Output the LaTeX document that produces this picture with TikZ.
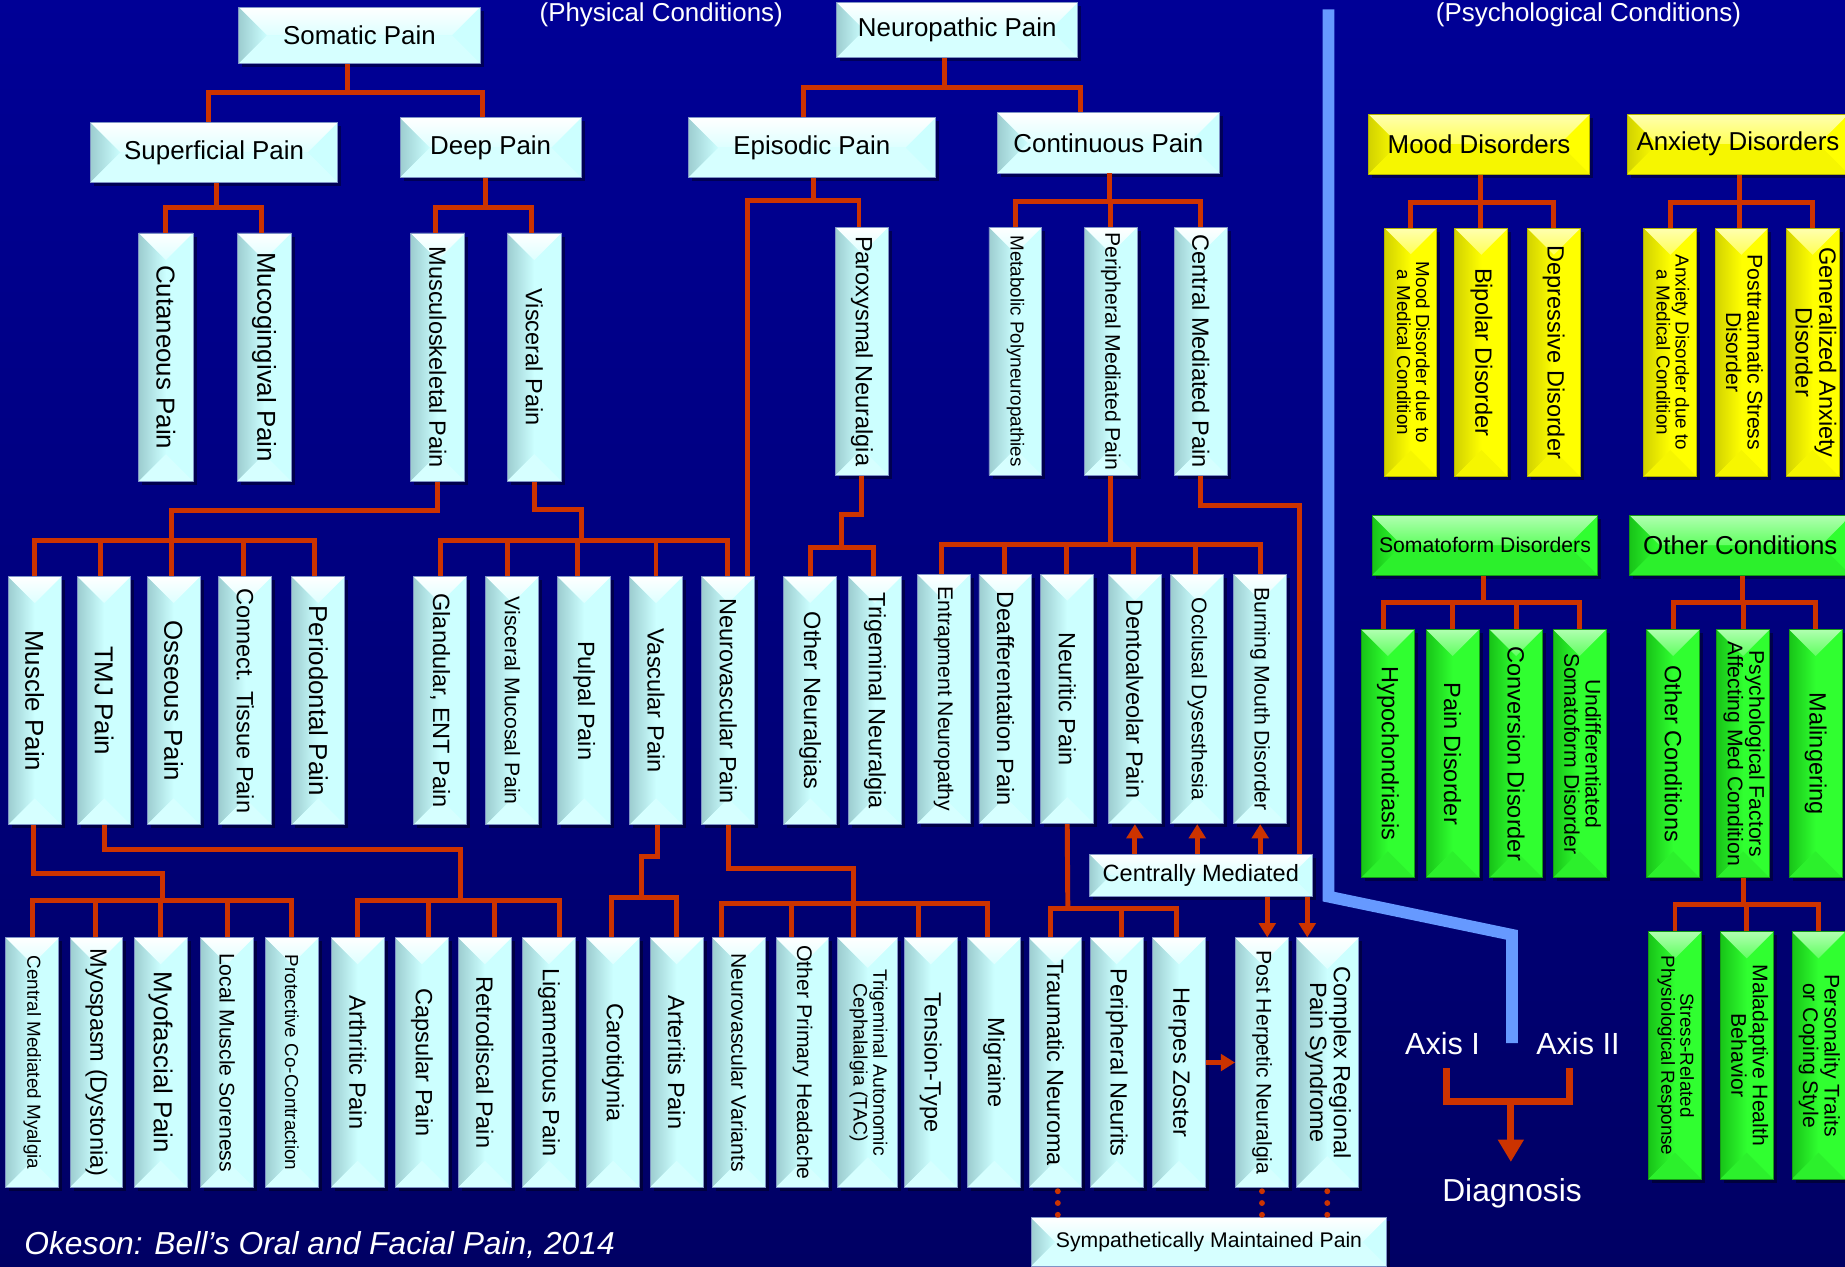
\documentclass[tikz,border=0pt]{standalone}
\usepackage{fontspec}
\setmainfont{Liberation Sans}
\usepackage{graphicx}
\usetikzlibrary{arrows.meta}

\definecolor{cyW}{HTML}{FFFFFF}
\definecolor{cyL}{HTML}{9DCDD0}
\definecolor{cyR}{HTML}{CCFFFF}
\definecolor{cyT}{HTML}{DDFFFF}
\definecolor{cyB}{HTML}{D6FFFF}
\definecolor{cyD}{HTML}{7F94C6}
\definecolor{ylW}{HTML}{FFFFB0}
\definecolor{ylL}{HTML}{D2D200}
\definecolor{ylR}{HTML}{FFFF00}
\definecolor{ylT}{HTML}{FFFF55}
\definecolor{ylB}{HTML}{F6F600}
\definecolor{ylD}{HTML}{B4B400}
\definecolor{grW}{HTML}{B0FFB0}
\definecolor{grL}{HTML}{18C418}
\definecolor{grR}{HTML}{30FF30}
\definecolor{grT}{HTML}{60FF60}
\definecolor{grB}{HTML}{2CF02C}
\definecolor{grD}{HTML}{169A16}
\definecolor{redline}{HTML}{CC3300}
\definecolor{divblue}{HTML}{6699FF}
\definecolor{bgT}{HTML}{000096}
\definecolor{bgM}{HTML}{0000CC}
\definecolor{bgB}{HTML}{000064}

\newcommand\fsz[1]{\fontsize{#1}{#1}\selectfont}
\newcommand\vtxt[2]{\rotatebox{-90}{\fsz{#1}#2}}
\newcommand\vtwo[3]{\rotatebox{-90}{\fsz{#1}\def\arraystretch{0.95}\begin{tabular}{@{}c@{}}#2\\#3\end{tabular}}}
\newcommand\bevbox[7][cy]{%
  \pgfmathsetmacro\bxl{#3-#5/2}%
  \pgfmathsetmacro\bxr{#3+#5/2}%
  \pgfmathsetmacro\byt{#4-#6/2}%
  \pgfmathsetmacro\byb{#4+#6/2}%
  \pgfmathsetmacro\bd{min(#5,#6)/2}%
  \pgfmathsetmacro\bxli{\bxl+\bd}%
  \pgfmathsetmacro\bxri{\bxr-\bd}%
  \pgfmathsetmacro\byti{\byt+\bd}%
  \pgfmathsetmacro\bybi{\byb-\bd}%
  \fill[black,opacity=.4] (\bxl+3,\byt+3) rectangle (\bxr+3,\byb+3);
  \fill[#1R] (\bxl,\byt) rectangle (\bxr,\byb);
  \shade[left color=#1L, right color=#1R] (\bxl,\byt) -- (\bxli,\byti) -- (\bxli,\bybi) -- (\bxl,\byb) -- cycle;
  \fill[#1R] (\bxr,\byt) -- (\bxri,\byti) -- (\bxri,\bybi) -- (\bxr,\byb) -- cycle;
  \shade[top color=#1W, bottom color=#1T] (\bxl,\byt) -- (\bxr,\byt) -- (\bxri,\byti) -- (\bxli,\byti) -- cycle;
  \fill[#1B] (\bxl,\byb) -- (\bxr,\byb) -- (\bxri,\bybi) -- (\bxli,\bybi) -- cycle;
  \node[draw=#1D, line width=.8pt, inner sep=0pt, minimum width=#5pt, minimum height=#6pt] (#2) at (#3,#4) {#7};%
}

\begin{document}
\begin{tikzpicture}[x=1pt,y=-1pt,
  conn/.style={draw=redline, line width=4.2pt, line join=miter},
  arr/.style={draw=redline, line width=4.2pt, -{Triangle[width=14pt,length=12pt]}},
  dotline/.style={draw=redline, line width=5pt, line cap=round, dash pattern=on 0pt off 10pt, shorten <=3pt, shorten >=2pt},
  wtxt/.style={text=white, inner sep=0pt},
  divider/.style={draw=divblue, line width=10pt, line join=miter},
  bigconn/.style={draw=redline, line width=6pt, line join=miter},
  bigarr/.style={draw=redline, line width=6pt, -{Triangle[width=21pt,length=19pt]}}]

\useasboundingbox (0,0) rectangle (1568,1076);
\shade[top color=bgT, middle color=bgM, bottom color=bgB] (0,0) rectangle (1568,1076);

% divider
\draw[divider] (1129,8) -- (1129,762) -- (1285,794.5) -- (1285,886.5);

% titles
\node[wtxt, font=\fsz{22}, anchor=base] (phys) at (562,18) {(Physical Conditions)};
\node[wtxt, font=\fsz{22}, anchor=base] (psych) at (1350,18) {(Psychological Conditions)};

% ---------- level 1/2 headers ----------
\bevbox{somatic}{305.5}{30}{205}{48}{\fsz{22}Somatic Pain}
\bevbox{neuro}{813.5}{25.5}{205}{47}{\fsz{22}Neuropathic Pain}
\bevbox{superf}{182}{129.5}{210}{51}{\fsz{22}Superficial Pain}
\bevbox{deep}{417}{125.5}{154}{51}{\fsz{22}Deep Pain}
\bevbox{episodic}{690}{125.5}{210}{51}{\fsz{22}Episodic Pain}
\bevbox{contin}{942}{121.5}{188}{51}{\fsz{22}Continuous Pain}

% ---------- row 2 ----------
\bevbox{cutan}{141}{303.5}{46}{211}{\vtxt{22}{Cutaneous Pain}}
\bevbox{mucog}{224.5}{303.5}{46}{211}{\vtxt{22}{Mucogingival Pain}}
\bevbox{muscsk}{372}{303.5}{46}{211}{\vtxt{20}{Musculoskeletal Pain}}
\bevbox{visc}{454}{303.5}{46}{211}{\vtxt{20}{Visceral Pain}}
\bevbox{parox}{732.5}{298.5}{45}{211}{\vtxt{20}{Paroxysmal Neuralgia}}
\bevbox{metab}{863}{298.5}{45}{211}{\vtxt{16}{Metabolic Polyneuropathies}}
\bevbox{perimed}{944}{298.5}{45}{211}{\vtxt{18}{Peripheral Mediated Pain}}
\bevbox{centmed}{1020.5}{298.5}{45}{211}{\vtxt{20}{Central Mediated Pain}}

% psych row 2
\bevbox[yl]{mood}{1257}{122.5}{188}{51}{\fsz{22}Mood Disorders}
\bevbox[yl]{anxiety}{1477}{122.5}{188}{51}{\fsz{22}Anxiety Disorders}
\bevbox[yl]{mooddue}{1199}{299.5}{44}{211}{\vtwo{16}{Mood Disorder due to}{a Medical Condition}}
\bevbox[yl]{bipolar}{1259}{299.5}{45}{211}{\vtxt{20}{Bipolar Disorder}}
\bevbox[yl]{depress}{1320.5}{299.5}{45}{211}{\vtxt{20}{Depressive Disorder}}
\bevbox[yl]{anxdue}{1419.5}{299.5}{45}{211}{\vtwo{16}{Anxiety Disorder due to}{a Medical Condition}}
\bevbox[yl]{ptsd}{1480}{299.5}{45}{211}{\vtwo{18}{Posttraumatic Stress}{Disorder}}
\bevbox[yl]{gad}{1540.5}{299.5}{45}{211}{\vtwo{20}{Generalized Anxiety}{Disorder}}

% ---------- row 3 ----------
\bevbox{musclep}{29.5}{595.5}{45}{211}{\vtxt{22}{Muscle Pain}}
\bevbox{tmj}{88.5}{595.5}{45}{211}{\vtxt{22}{TMJ Pain}}
\bevbox{osseous}{147.5}{595.5}{45}{211}{\vtxt{22}{Osseous Pain}}
\bevbox{connect}{208.5}{595.5}{45}{211}{\vtxt{20}{Connect. Tissue Pain}}
\bevbox{periodon}{270.5}{595.5}{45}{211}{\vtxt{22}{Periodontal Pain}}
\bevbox{glandular}{374}{595.5}{45}{211}{\vtxt{20}{Glandular, ENT Pain}}
\bevbox{viscmuc}{435.5}{595.5}{45}{211}{\vtxt{18}{Visceral Mucosal Pain}}
\bevbox{pulpal}{496.5}{595.5}{45}{211}{\vtxt{20}{Pulpal Pain}}
\bevbox{vascular}{557.5}{595.5}{45}{211}{\vtxt{20}{Vascular Pain}}
\bevbox{neurovasc}{619}{595.5}{45}{211}{\vtxt{20}{Neurovascular Pain}}
\bevbox{otherneur}{688.5}{595.5}{45}{211}{\vtxt{20}{Other Neuralgias}}
\bevbox{trignr}{743.5}{595.5}{45}{211}{\vtxt{20}{Trigeminal Neuralgia}}
\bevbox{entrap}{802}{594}{45}{212}{\vtxt{18}{Entrapment Neuropathy}}
\bevbox{deaff}{854.5}{594}{45}{212}{\vtxt{20}{Deafferentation Pain}}
\bevbox{neuritic}{907}{594}{45}{212}{\vtxt{20}{Neuritic Pain}}
\bevbox{dentoalv}{964.5}{594}{45}{212}{\vtxt{20}{Dentoalveolar Pain}}
\bevbox{occlus}{1017.5}{594}{45}{212}{\vtxt{18}{Occlusal Dysesthesia}}
\bevbox{burning}{1071}{594}{45}{212}{\vtxt{18}{Burning Mouth Disorder}}

% psych row 3
\bevbox[gr]{somato}{1262}{463.5}{192}{51}{\fsz{18}Somatoform Disorders}
\bevbox[gr]{otherc}{1479}{463.5}{188}{51}{\fsz{22}Other Conditions}
\bevbox[gr]{hypo}{1179.5}{640.5}{45}{211}{\vtxt{20}{Hypochondriasis}}
\bevbox[gr]{paindis}{1234.5}{640.5}{45}{211}{\vtxt{20}{Pain Disorder}}
\bevbox[gr]{conv}{1288.5}{640.5}{45}{211}{\vtxt{20}{Conversion Disorder}}
\bevbox[gr]{undiff}{1342.5}{640.5}{45}{211}{\vtwo{18}{Undifferentiated}{Somatoform Disorder}}
\bevbox[gr]{otherc2}{1422}{640.5}{45}{211}{\vtxt{20}{Other Conditions}}
\bevbox[gr]{psyfac}{1481.5}{640.5}{45}{211}{\vtwo{18}{Psychological Factors}{Affecting Med Condition}}
\bevbox[gr]{maling}{1543}{640.5}{45}{211}{\vtxt{20}{Malingering}}

% ---------- bottom row ----------
\bevbox{cmm}{27.5}{903}{45}{212}{\vtxt{16}{Central Mediated Myalgia}}
\bevbox{myosp}{82}{903}{45}{212}{\vtxt{20}{Myospasm (Dystonia)}}
\bevbox{myofasc}{136.5}{903}{45}{212}{\vtxt{22}{Myofascial Pain}}
\bevbox{lms}{193}{903}{45}{212}{\vtxt{18}{Local Muscle Soreness}}
\bevbox{protect}{248}{903}{45}{212}{\vtxt{16}{Protective Co-Contraction}}
\bevbox{arthr}{304}{903}{45}{212}{\vtxt{20}{Arthritic Pain}}
\bevbox{caps}{358.5}{903}{45}{212}{\vtxt{20}{Capsular Pain}}
\bevbox{retro}{412}{903}{45}{212}{\vtxt{20}{Retrodiscal Pain}}
\bevbox{ligam}{466.5}{903}{45}{212}{\vtxt{20}{Ligamentous Pain}}
\bevbox{carot}{521}{903}{45}{212}{\vtxt{20}{Carotidynia}}
\bevbox{arter}{575}{903}{45}{212}{\vtxt{20}{Arteritis Pain}}
\bevbox{nvv}{628}{903}{45}{212}{\vtxt{18}{Neurovascular Variants}}
\bevbox{oph}{682}{903}{45}{212}{\vtxt{18}{Other Primary Headache}}
\bevbox{tac}{737.5}{903}{51}{212}{\vtwo{16.5}{Trigeminal Autonomic}{Cephalalgia (TAC)}}
\bevbox{tension}{791}{903}{45}{212}{\vtxt{20}{Tension-Type}}
\bevbox{migraine}{845}{903}{45}{212}{\vtxt{20}{Migraine}}
\bevbox{traum}{897}{903}{45}{212}{\vtxt{20}{Traumatic Neuroma}}
\bevbox{perneur}{949}{903}{45}{212}{\vtxt{20}{Peripheral Neurits}}
\bevbox{herpes}{1002}{903}{45}{212}{\vtxt{20}{Herpes Zoster}}
\bevbox{phn}{1072.5}{903}{45}{212}{\vtxt{18}{Post Herpetic Neuralgia}}
\bevbox{crps}{1128}{903}{53}{212}{\vtwo{20}{Complex Regional}{Pain Syndrome}}

\bevbox[gr]{stress}{1423.5}{897}{45}{210}{\vtwo{16}{Stress-Related}{Physiological Response}}
\bevbox[gr]{malad}{1484.5}{897}{45}{210}{\vtwo{18}{Maladaptive Health}{Behavior}}
\bevbox[gr]{person}{1545.5}{897}{45}{210}{\vtwo{18}{Personality Traits}{or Coping Style}}

\bevbox{cmed}{1020.5}{744}{189}{36}{\fsz{20}Centrally Mediated}
\bevbox{smp}{1027.5}{1055.5}{302}{41}{\fsz{18}Sympathetically Maintained Pain}

% ---------- connectors ----------
% Somatic
\coordinate (jS) at (295,79);
\draw[conn] ([xshift=-10.5pt]somatic.south) -- (jS);
\draw[conn] ([xshift=-5pt]superf.north) |- (jS);
\draw[conn] ([xshift=-7pt]deep.north) |- (jS);
% Superficial
\coordinate (jSf) at (184,176);
\draw[conn] ([xshift=2pt]superf.south) -- (jSf);
\draw[conn] (cutan.north) |- (jSf);
\draw[conn] ([xshift=-2.5pt]mucog.north) |- (jSf);
% Deep
\coordinate (jD) at (413,176);
\draw[conn] ([xshift=-4pt]deep.south) -- (jD);
\draw[conn] ([xshift=-2pt]muscsk.north) |- (jD);
\draw[conn] ([xshift=-2pt]visc.north) |- (jD);
% Neuropathic
\coordinate (jN) at (803,74);
\draw[conn] ([xshift=-10.5pt]neuro.south) -- (jN);
\draw[conn] ([xshift=-7pt]episodic.north) |- (jN);
\draw[conn] ([xshift=-24pt]contin.north) |- (jN);
% Episodic
\coordinate (jE) at (691,170);
\draw[conn] ([xshift=1pt]episodic.south) -- (jE);
\draw[conn] ([xshift=16pt]neurovasc.north) |- (jE);
\draw[conn] ([xshift=-2.5pt]parox.north) |- (jE);
% Continuous
\coordinate (jC) at (943,171.5);
\draw[conn] ([xshift=1pt]contin.south) -- (jC);
\draw[conn] (metab.north) |- (jC);
\draw[conn] (perimed.north) |- (jC);
\draw[conn] (centmed.north) |- (jC);
% Mood / Anxiety
\coordinate (jMo) at (1258.5,172);
\draw[conn] ([xshift=1.5pt]mood.south) -- (jMo);
\draw[conn] (mooddue.north) |- (jMo);
\draw[conn] ([xshift=-0.5pt]bipolar.north) |- (jMo);
\draw[conn] (depress.north) |- (jMo);
\coordinate (jA) at (1478,172);
\draw[conn] ([xshift=1pt]anxiety.south) -- (jA);
\draw[conn] (anxdue.north) |- (jA);
\draw[conn] ([xshift=-2pt]ptsd.north) |- (jA);
\draw[conn] (gad.north) |- (jA);
% Musculoskeletal -> row 3
\draw[conn] (muscsk.south) |- (146,434) -- (146,459) coordinate (jMs);
\draw[conn] (musclep.north) |- (jMs);
\draw[conn] ([xshift=-3pt]tmj.north) |- (jMs);
\draw[conn] ([xshift=-2pt]osseous.north) |- (jMs);
\draw[conn] ([xshift=-1.5pt]connect.north) |- (jMs);
\draw[conn] ([xshift=-3pt]periodon.north) |- (jMs);
% Visceral -> row 3
\draw[conn] (visc.south) |- (494,433) -- (494,459) coordinate (jV);
\draw[conn] (glandular.north) |- (jV);
\draw[conn] ([xshift=-4.5pt]viscmuc.north) |- (jV);
\draw[conn] ([xshift=-6pt]pulpal.north) |- (jV);
\draw[conn] (vascular.north) |- (jV);
\draw[conn] ([xshift=-1pt]neurovasc.north) |- (jV);
% Paroxysmal
\draw[conn] (parox.south) |- (715,437) -- (715,465) coordinate (jP);
\draw[conn] (otherneur.north) |- (jP);
\draw[conn] ([xshift=-1.5pt]trignr.north) |- (jP);
% Peripheral mediated
\coordinate (jPM) at (944,462.5);
\draw[conn] (perimed.south) -- (jPM);
\draw[conn] ([xshift=-2pt]entrap.north) |- (jPM);
\draw[conn] ([xshift=-0.5pt]deaff.north) |- (jPM);
\draw[conn] ([xshift=-1pt]neuritic.north) |- (jPM);
\draw[conn] ([xshift=-1.5pt]dentoalv.north) |- (jPM);
\draw[conn] ([xshift=-1.5pt]occlus.north) |- (jPM);
\draw[conn] (burning.north) |- (jPM);
% Central mediated -> Centrally Mediated
\coordinate (cmc) at (1104,430);
\draw[conn] (centmed.south) |- (cmc) -- (cmc |- cmed.north);
\draw[arr] (cmed.north -| dentoalv.south) -- (dentoalv.south);
\draw[arr] (cmed.north -| occlus.south) -- (occlus.south);
\draw[arr] (cmed.north -| burning.south) -- (burning.south);
\coordinate (aP) at ([xshift=4.5pt]phn.north);
\coordinate (aC) at ([xshift=-17pt]crps.north);
\draw[arr] (aP |- cmed.south) -- (aP);
\draw[arr] (aC |- cmed.south) -- (aC);
% Neuritic -> bottom
\coordinate (jNr) at (907.5,772);
\draw[conn] (neuritic.south) -- (jNr);
\draw[conn] ([xshift=-4pt]traum.north) |- (jNr);
\draw[conn] ([xshift=4pt]perneur.north) |- (jNr);
\draw[conn] ([xshift=-2pt]herpes.north) |- (jNr);
% Muscle -> bottom
\draw[conn] ([xshift=-1pt]musclep.south) |- (138,742) -- (138,765) coordinate (jMu);
\draw[conn] (cmm.north) |- (jMu);
\draw[conn] ([xshift=-1pt]myosp.north) |- (jMu);
\draw[conn] (myofasc.north) |- (jMu);
\draw[conn] (lms.north) |- (jMu);
\draw[conn] (protect.north) |- (jMu);
% TMJ -> bottom
\draw[conn] (tmj.south) |- (391,722) -- (391,765) coordinate (jT);
\draw[conn] (arthr.north) |- (jT);
\draw[conn] ([xshift=6pt]caps.north) |- (jT);
\draw[conn] ([xshift=8pt]retro.north) |- (jT);
\draw[conn] ([xshift=9pt]ligam.north) |- (jT);
% Vascular -> bottom
\draw[conn] ([xshift=1.5pt]vascular.south) |- (545,728) -- (545,763) coordinate (jVa);
\draw[conn] ([xshift=-1pt]carot.north) |- (jVa);
\draw[conn] (arter.north) |- (jVa);
% Neurovascular -> bottom
\draw[conn] (neurovasc.south) |- (725,738) -- (725,767.5) coordinate (jNv);
\draw[conn] ([xshift=-15pt]nvv.north) |- (jNv);
\draw[conn] ([xshift=-9.5pt]oph.north) |- (jNv);
\draw[conn] ([xshift=-12.5pt]tac.north) |- (jNv);
\draw[conn] ([xshift=-10.5pt]tension.north) |- (jNv);
\draw[conn] ([xshift=-5.5pt]migraine.north) |- (jNv);
% Herpes -> PHN
\draw[arr] (herpes.east) -- (phn.west);
% dotted to SMP
\draw[dotline] ([xshift=2pt]traum.south) -- ([xshift=2pt]traum.south |- smp.north);
\draw[dotline] (phn.south) -- (phn.south |- smp.north);
\draw[dotline] (crps.south) -- (crps.south |- smp.north);
% Somatoform / Other conditions
\coordinate (jSo) at (1261,512);
\draw[conn] ([xshift=-1pt]somato.south) -- (jSo);
\draw[conn] ([xshift=-3.5pt]hypo.north) |- (jSo);
\draw[conn] (paindis.north) |- (jSo);
\draw[conn] (conv.north) |- (jSo);
\draw[conn] (undiff.north) |- (jSo);
\coordinate (jOc) at (1481,512);
\draw[conn] ([xshift=2pt]otherc.south) -- (jOc);
\draw[conn] (otherc2.north) |- (jOc);
\draw[conn] (psyfac.north) |- (jOc);
\draw[conn] (maling.north) |- (jOc);
\coordinate (jPf) at (1482,769);
\draw[conn] ([xshift=0.5pt]psyfac.south) -- (jPf);
\draw[conn] (stress.north) |- (jPf);
\draw[conn] (malad.north) |- (jPf);
\draw[conn] (person.north) |- (jPf);

% Axis / Diagnosis
\node[wtxt, font=\fsz{26}, anchor=base] (axI) at (1226,896.5) {Axis I};
\node[wtxt, font=\fsz{26}, anchor=base] (axII) at (1341,896.5) {Axis II};
\node[wtxt, font=\fsz{27}, anchor=base] (diag) at (1285,1021) {Diagnosis};
\coordinate (brL) at (1229,907.5);
\coordinate (brR) at (1334,907.5);
\draw[bigconn] (brL) -- (1229,936.5) -- (1334,936.5) -- (brR);
\coordinate (dgTip) at (1284,987.5);
\draw[bigarr] (1284,933.5) -- (dgTip);

% citation
\node[wtxt, font=\fsz{27}\itshape, anchor=base west] (cite) at (20.5,1066.5) {Okeson: Bell’s Oral and Facial Pain, 2014};
\end{tikzpicture}
\end{document}
